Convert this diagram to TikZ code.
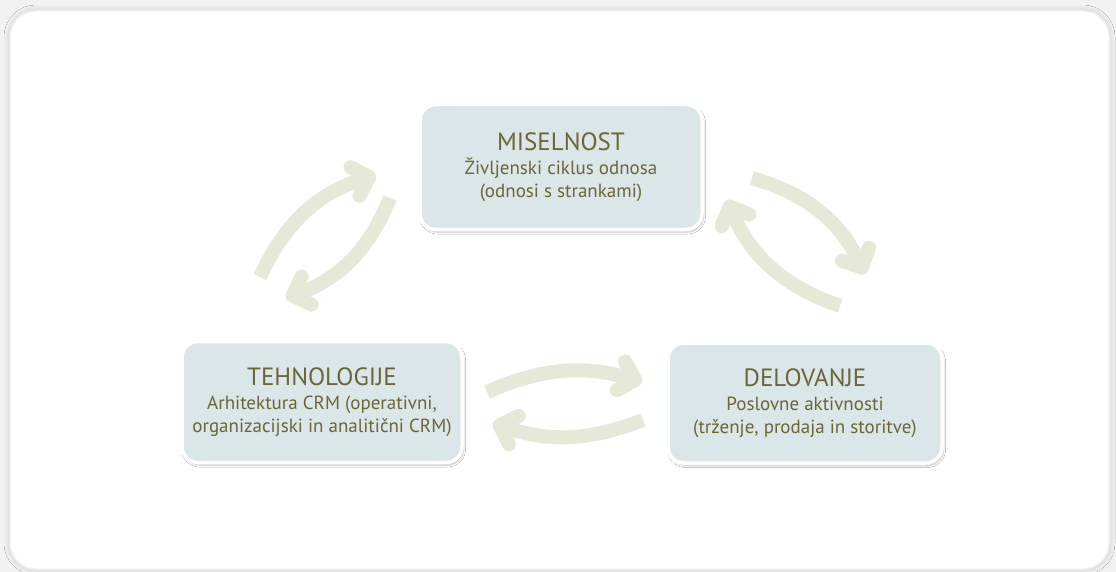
\documentclass[tikz,border=0pt]{standalone}
\usepackage{fontspec}
\setmainfont{PT Sans}
\usetikzlibrary{arrows.meta,shadows.blur}
\definecolor{panelbg}{HTML}{F2F2F2}
\definecolor{boxfill}{HTML}{DAE6E7}
\definecolor{txt}{HTML}{6B6638}
\definecolor{arrowc}{HTML}{E6E8D8}
\tikzset{
  box/.style={draw=white, line width=3.5pt, fill=boxfill, rounded corners=16pt,
    align=center, text=txt, font=\fontsize{19}{23}\selectfont,
    blur shadow={shadow xshift=1.5pt, shadow yshift=-2.5pt, shadow blur steps=6, shadow opacity=25}},
  cyc/.style={draw=arrowc, line width=14pt, -{Straight Barb[length=15pt,width=30pt,round]}},
}
\newcommand{\boxtitle}[1]{{\fontsize{25}{24}\selectfont #1}\\[1pt]}
\begin{document}
\begin{tikzpicture}[x=1pt,y=-1pt]
\useasboundingbox (0,0) rectangle (1116,572);
\fill[panelbg] (0,0) rectangle (1116,572);
\fill[white, draw=black!5, line width=1.5pt, rounded corners=26pt,
  blur shadow={shadow xshift=0pt, shadow yshift=0pt, shadow blur radius=6pt, shadow opacity=20}]
  (10,11) rectangle (1109,569);
\node[box, minimum width=282pt, minimum height=125pt] (mis) at (561,167)
  {\boxtitle{MISELNOST}Življenski ciklus odnosa\\(odnosi s strankami)};
\node[box, minimum width=280pt, minimum height=121pt] (teh) at (322,402)
  {\boxtitle{TEHNOLOGIJE}Arhitektura CRM (operativni,\\organizacijski in analitični CRM)};
\node[box, minimum width=274pt, minimum height=120pt] (del) at (805,403)
  {\boxtitle{DELOVANJE}Poslovne aktivnosti\\(trženje, prodaja in storitve)};
% left pair
\coordinate (l1s) at (260,277); \coordinate (l1e) at (376,175);
\coordinate (l2s) at (390,198); \coordinate (l2e) at (286,298);
% right pair
\coordinate (r1s) at (752,178); \coordinate (r1e) at (865,274);
\coordinate (r2s) at (840,306); \coordinate (r2e) at (727,200);
% bottom pair
\coordinate (b1s) at (487,392); \coordinate (b1e) at (642,382);
\coordinate (b2s) at (643,420); \coordinate (b2e) at (493,423);
\draw[cyc] (l1s) to[bend left=24] (l1e);
\draw[cyc] (l2s) to[bend left=24] (l2e);
\draw[cyc] (r1s) to[bend left=24] (r1e);
\draw[cyc] (r2s) to[bend left=24] (r2e);
\draw[cyc] (b1s) to[bend left=20] (b1e);
\draw[cyc] (b2s) to[bend left=20] (b2e);
\end{tikzpicture}
\end{document}
